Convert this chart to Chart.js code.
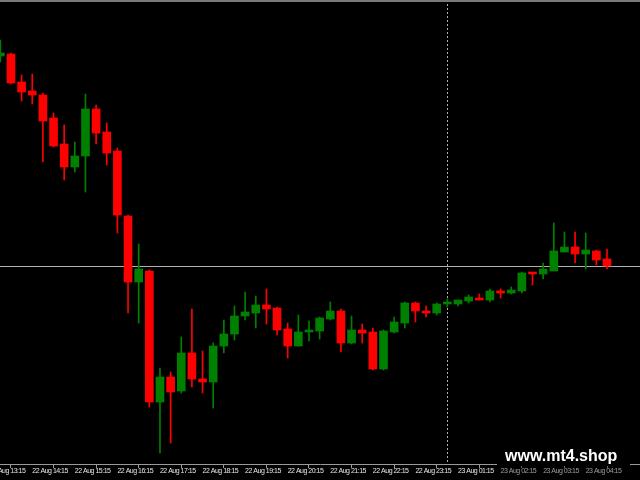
<!DOCTYPE html>
<html>
<head>
<meta charset="utf-8">
<title>M15 candles</title>
<script src="https://cdn.jsdelivr.net/npm/chart.js@4.4.0/dist/chart.umd.min.js"></script>
<style>
  html, body { margin: 0; padding: 0; background: #000; overflow: hidden; }
  canvas { display: block; }
</style>
</head>
<body>
<canvas id="chart" width="640" height="480"></canvas>
<script>
// 15 minute candles, 22 Aug 13:30 .. 23 Aug 04:45 (bar index 0..57)
const opens = [
  109.944, 109.946, 109.918, 109.909, 109.905, 109.882, 109.856, 109.833, 109.844, 109.891,
  109.868, 109.849, 109.784, 109.718, 109.729, 109.598, 109.623, 109.609, 109.647, 109.621,
  109.618, 109.654, 109.666, 109.684, 109.687, 109.695, 109.692, 109.671, 109.654, 109.668,
  109.669, 109.681, 109.689, 109.657, 109.670, 109.668, 109.631, 109.668, 109.677, 109.697,
  109.689, 109.687, 109.696, 109.696, 109.699, 109.702, 109.700, 109.709, 109.707, 109.709,
  109.727, 109.726, 109.729, 109.748, 109.753, 109.746, 109.749, 109.741
];
const highs = [
  109.960, 109.947, 109.925, 109.926, 109.907, 109.887, 109.875, 109.858, 109.906, 109.895,
  109.877, 109.852, 109.785, 109.756, 109.730, 109.632, 109.628, 109.663, 109.691, 109.649,
  109.657, 109.680, 109.694, 109.708, 109.704, 109.711, 109.693, 109.677, 109.685, 109.679,
  109.683, 109.698, 109.691, 109.684, 109.676, 109.672, 109.670, 109.683, 109.698, 109.698,
  109.694, 109.697, 109.701, 109.700, 109.705, 109.706, 109.711, 109.711, 109.713, 109.728,
  109.727, 109.737, 109.777, 109.768, 109.768, 109.767, 109.750, 109.751
];
const lows = [
  109.938, 109.916, 109.899, 109.896, 109.838, 109.853, 109.820, 109.828, 109.808, 109.856,
  109.835, 109.767, 109.687, 109.677, 109.593, 109.547, 109.557, 109.607, 109.613, 109.607,
  109.592, 109.647, 109.660, 109.680, 109.672, 109.676, 109.665, 109.642, 109.654, 109.659,
  109.661, 109.680, 109.648, 109.656, 109.657, 109.630, 109.630, 109.667, 109.672, 109.678,
  109.683, 109.685, 109.693, 109.694, 109.697, 109.700, 109.698, 109.702, 109.706, 109.707,
  109.715, 109.721, 109.729, 109.748, 109.737, 109.731, 109.735, 109.731
];
const closes = [
  109.947, 109.917, 109.908, 109.905, 109.879, 109.854, 109.833, 109.844, 109.891, 109.867,
  109.847, 109.785, 109.718, 109.731, 109.598, 109.623, 109.608, 109.647, 109.621, 109.618,
  109.654, 109.666, 109.684, 109.688, 109.695, 109.691, 109.670, 109.654, 109.668, 109.669,
  109.682, 109.689, 109.657, 109.670, 109.667, 109.631, 109.669, 109.678, 109.697, 109.689,
  109.687, 109.696, 109.697, 109.700, 109.703, 109.700, 109.709, 109.707, 109.710, 109.727,
  109.726, 109.731, 109.749, 109.753, 109.746, 109.750, 109.740, 109.734
];

// time scale labels, one every 4 bars (bar -1 is just off the left edge)
const tickIndex = [-1, 3, 7, 11, 15, 19, 23, 27, 31, 35, 39, 43, 47, 51, 55];
const tickLabels = [
  '22 Aug 13:15', '22 Aug 14:15', '22 Aug 15:15', '22 Aug 16:15', '22 Aug 17:15',
  '22 Aug 18:15', '22 Aug 19:15', '22 Aug 20:15', '22 Aug 21:15', '22 Aug 22:15',
  '22 Aug 23:15', '23 Aug 01:15', '23 Aug 02:15', '23 Aug 03:15', '23 Aug 04:15'
];

// crosshair
const crossIndex = 42;
const crossPrice = 109.7345;

const UP = '#008000';
const DOWN = '#ff0000';
const candleColor = ctx => closes[ctx.dataIndex] >= opens[ctx.dataIndex] ? UP : DOWN;

const wicks = opens.map((o, i) => ({ x: i, y: [lows[i], highs[i]] }));
const bodies = opens.map((o, i) => ({ x: i, y: [o, closes[i]] }));

const overlay = {
  id: 'overlay',
  beforeDraw(chart) {
    // squeeze the time labels a bit, like the terminal's narrow font
    chart.ctx.letterSpacing = '-0.5px';
  },
  beforeDatasetsDraw(chart) {
    const { ctx, chartArea, scales } = chart;
    const px = Math.round(scales.x.getPixelForValue(crossIndex)) + 0.5;
    const py = Math.round(scales.y.getPixelForValue(crossPrice)) + 0.5;
    ctx.save();
    ctx.strokeStyle = '#b0b0b0';
    ctx.lineWidth = 1;
    ctx.beginPath();
    ctx.moveTo(chartArea.left, py);
    ctx.lineTo(chartArea.right, py);
    ctx.stroke();
    ctx.setLineDash([2, 2]);
    ctx.beginPath();
    ctx.moveTo(px, chartArea.top);
    ctx.lineTo(px, chartArea.bottom);
    ctx.stroke();
    ctx.restore();
  },
  afterDraw(chart) {
    const { ctx } = chart;
    ctx.save();
    ctx.letterSpacing = '0px';
    // window frame at the top
    ctx.fillStyle = '#7a7a7a';
    ctx.fillRect(0, 0, 640, 2);
    // watermark box
    ctx.fillStyle = '#000';
    ctx.fillRect(497, 443, 133, 23);
    ctx.fillStyle = 'rgba(0,0,0,0.35)';
    ctx.fillRect(497, 466, 133, 12);
    ctx.fillStyle = '#ffffff';
    ctx.font = "bold 16px 'Liberation Sans', Arial, sans-serif";
    ctx.textBaseline = 'alphabetic';
    ctx.fillText('www.mt4.shop', 505, 461);
    ctx.restore();
  }
};

new Chart(document.getElementById('chart'), {
  type: 'bar',
  data: {
    datasets: [
      {
        label: 'body',
        data: bodies,
        backgroundColor: candleColor,
        barThickness: 8,
        minBarLength: 2,
        grouped: false,
        order: 1
      },
      {
        label: 'wick',
        data: wicks,
        backgroundColor: candleColor,
        barThickness: 1,
        grouped: false,
        order: 2
      }
    ]
  },
  options: {
    responsive: false,
    animation: false,
    events: [],
    layout: { padding: 0 },
    plugins: {
      legend: { display: false },
      tooltip: { enabled: false }
    },
    scales: {
      x: {
        type: 'linear',
        min: -0.03,
        max: 60.1,
        offset: false,
        afterBuildTicks(scale) {
          scale.ticks = tickIndex.map(v => ({ value: v }));
        },
        afterFit(scale) {
          scale.height = 16;
          scale.paddingLeft = 0;
          scale.paddingRight = 0;
        },
        ticks: {
          autoSkip: false,
          maxRotation: 0,
          minRotation: 0,
          align: 'start',
          padding: -1,
          color: '#e6e6e6',
          font: { family: "'Liberation Sans', Arial, sans-serif", size: 7 },
          callback: (v) => tickLabels[tickIndex.indexOf(v)] ?? ''
        },
        grid: {
          display: true,
          drawOnChartArea: false,
          drawTicks: true,
          tickLength: 4,
          color: '#9a9a9a'
        },
        border: { display: true, color: '#9a9a9a' }
      },
      y: {
        display: false,
        min: 109.536,
        max: 110.000
      }
    }
  },
  plugins: [overlay]
});
</script>
</body>
</html>
